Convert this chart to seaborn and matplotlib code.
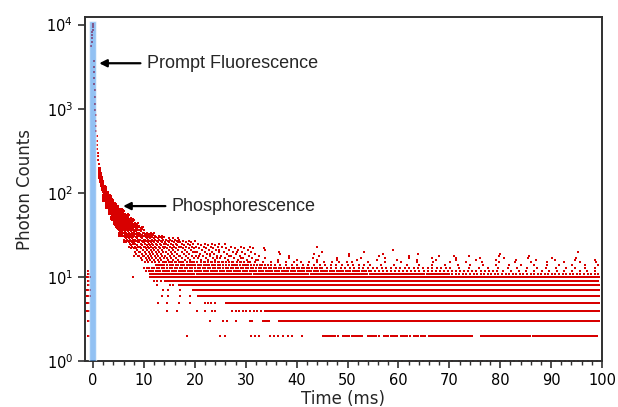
import matplotlib
matplotlib.use('Agg')
import matplotlib.pyplot as plt
import numpy as np
import pandas as pd
import seaborn as sns
from matplotlib.ticker import MultipleLocator, LogLocator, NullLocator

# early decay (time in ms, photon counts)
decay_t = [-0.35, -0.3, -0.25, -0.2, -0.15, -0.1, -0.05, 0.0, 0.05, 0.1, 0.14, 0.18,
           0.22, 0.26, 0.3, 0.35, 0.4, 0.45, 0.5, 0.55, 0.6, 0.65, 0.7, 0.75, 0.8,
           0.85, 0.9, 0.95, 1.0, 1.1, 1.2, 1.3, 1.4, 1.5, 1.6, 1.7, 1.8, 1.9]
decay_c = [5600, 6200, 6900, 7500, 8100, 8700, 9300, 9800, 10100, 3700, 3150, 2700,
           2300, 1950, 1650, 1380, 1150, 980, 840, 720, 620, 540, 470, 420, 370,
           330, 300, 275, 250, 220, 195, 178, 162, 150, 140, 130, 122, 114]

# phosphorescence cloud: time slice, count range inside it, channel spacing
cloud_t0 = [1.2, 1.4, 1.6, 1.8, 2.0, 2.5, 3.0, 3.5, 4.0, 4.5, 5.0, 6.0, 7.0, 8.0, 9.0,
            10, 12, 14, 17, 20, 25]
cloud_t1 = [1.4, 1.6, 1.8, 2.0, 2.5, 3.0, 3.5, 4.0, 4.5, 5.0, 6.0, 7.0, 8.0, 9.0, 10,
            12, 14, 17, 20, 25, 32]
cloud_lo = [150, 135, 120, 108, 80, 66, 56, 48, 42, 37, 31, 26, 22, 18, 16,
            15, 14, 14, 14, 14, 14]
cloud_hi = [200, 175, 155, 140, 120, 104, 94, 84, 76, 70, 64, 56, 50, 44, 40,
            34, 31, 29, 27, 25, 23]
cloud_dt = [0.12, 0.12, 0.12, 0.12, 0.25, 0.28, 0.3, 0.32, 0.35, 0.38, 0.42, 0.5, 0.6,
            0.7, 0.75, 0.65, 0.75, 0.9, 1.1, 1.4, 1.8]

# integer count rows: level, first / last time, spacing of dots along the row
band_level = [2, 3, 4, 5, 6, 7, 8, 9, 10, 11, 12,
              1, 1, 1,
              2, 2, 2, 2, 2, 2, 2, 2, 2,
              3, 3, 3,
              4, 4, 4,
              5, 5,
              6, 7,
              8, 8,
              9, 9,
              10,
              11, 11,
              12, 12, 12,
              13, 13, 13,
              14, 14, 14,
              15, 15, 15,
              16, 17, 18, 19, 20, 21]
band_t0 = [-1.0, -1.2, -1.25, -1.25, -1.25, -1.2, -1.2, -1.15, -1.2, -1.1, -1.0,
           36, 50, 75,
           45, 49, 53.9, 57.1, 60.4, 63, 66, 76.2, 86.4,
           30.6, 33, 36.3,
           23, 27, 33.5,
           22, 26,
           20.4, 19.5,
           14.5, 16.5,
           11.5, 13.9,
           11.2,
           10.8, 70,
           10.3, 55, 80,
           10, 45, 70,
           12, 35, 55,
           14, 30, 50,
           25, 22, 20, 18, 17, 16]
band_t1 = [-0.7, -0.65, -0.65, -0.65, -0.65, -0.65, -0.65, -0.7, -0.65, -0.7, -0.75,
           50, 75, 99.5,
           48.3, 53.2, 56.5, 59.8, 62.4, 65.4, 74.8, 86, 99.2,
           31.5, 35, 99.5,
           24.4, 33.5, 99.5,
           24.4, 99.5,
           99.5, 99.5,
           15.8, 99.5,
           13.5, 99.5,
           99.5,
           70, 99.5,
           55, 80, 99.5,
           45, 70, 99.5,
           35, 55, 99.5,
           30, 50, 99.5,
           99.5, 99.5, 90, 70, 55, 40]
band_dt = [0.15, 0.12, 0.12, 0.12, 0.12, 0.12, 0.12, 0.12, 0.12, 0.15, 0.2,
           2.3, 1.4, 0.9,
           0.42, 0.42, 0.42, 0.42, 0.42, 0.42, 0.38, 0.38, 0.38,
           0.38, 0.42, 0.38,
           0.6, 0.7, 0.38,
           0.6, 0.38,
           0.38, 0.38,
           0.6, 0.38,
           0.7, 0.38,
           0.38,
           0.4, 0.7,
           0.45, 0.8, 1.5,
           0.5, 0.9, 1.9,
           0.55, 1.1, 2.5,
           0.7, 1.5, 3.2,
           3.9, 4.7, 5.9, 6.8, 8.3, 9.0]

# stray single dots (ms, counts)
stray_t = [18.4, 25, 26, 31, 31.8, 32.6, 34.8, 35.6, 36.4, 37.4, 38.2, 39.1, 41.1,
           23, 25.6, 26.4, 28, 14.5, 16.5, 20.4, 22, 12.8, 14.5, 16.8, 19,
           13.5, 14.8, 17, 19, 13.8, 14.8, 17, 12.5, 7.8,
           33.5, 95.2, 26, 59, 80, 44, 71]
stray_c = [2, 2, 2, 2, 2, 2, 2, 2, 2, 2, 2, 2, 2,
           3, 3, 3, 3, 4, 4, 4, 4, 5, 5, 5, 5,
           6, 6, 6, 6, 7, 7, 7, 8, 10,
           22, 20, 25, 21, 19, 23, 18]

# prompt fluorescence excitation window
prompt_t = [-0.1]
prompt_c = [10900]

golden = 0.618


def row_points(level, t0, t1, dt):
    shift = (level * golden) % 1 * dt
    ts = np.arange(t0 + shift, t1, dt)
    return ts, np.full(len(ts), level)


xs, ys = [np.array(decay_t)], [np.array(decay_c, dtype=float)]
for t0, t1, lo, hi, dt in zip(cloud_t0, cloud_t1, cloud_lo, cloud_hi, cloud_dt):
    for lev in range(lo, hi + 1):
        a, b = row_points(lev, t0, t1, dt)
        xs.append(a)
        ys.append(b)
for lev, t0, t1, dt in zip(band_level, band_t0, band_t1, band_dt):
    a, b = row_points(lev, t0, t1, dt)
    xs.append(a)
    ys.append(b)
xs.append(np.array(stray_t))
ys.append(np.array(stray_c, dtype=float))

pts = pd.DataFrame({'t': np.concatenate(xs), 'c': np.concatenate(ys)})

sns.set_style('ticks')
plt.rcParams['font.family'] = ['DejaVu Sans']

fig = plt.figure(figsize=(6.18, 4.07), dpi=100)
ax = fig.add_axes([0.1375, 0.1118, 0.8366, 0.8464])

sns.scatterplot(data=pts, x='t', y='c', marker='s', s=2.2, color='#d80000',
                linewidth=0, legend=False, ax=ax, zorder=2)
ax.bar(prompt_t, prompt_c, width=1.4, bottom=0.8, color='#4a98ec', alpha=0.6,
       zorder=3)

ax.set_yscale('log')
ax.set_xlim(-1.6, 100)
ax.set_ylim(1, 12300)
ax.xaxis.set_major_locator(MultipleLocator(10))
ax.xaxis.set_minor_locator(MultipleLocator(2))
ax.yaxis.set_major_locator(LogLocator(base=10))
ax.yaxis.set_minor_locator(NullLocator())

for s in ax.spines.values():
    s.set_visible(True)
    s.set_linewidth(1.4)
    s.set_color('#303030')
ax.tick_params(which='major', direction='out', length=5, width=1.2,
               labelsize=10.5, colors='#303030', labelcolor='black')
ax.tick_params(which='minor', direction='out', length=3, width=1.0, colors='#303030')

ax.set_xlabel('Time (ms)', fontsize=12, labelpad=1)
ax.set_ylabel('Photon Counts', fontsize=12, labelpad=9)

arrow = dict(arrowstyle='-|>', color='black', lw=1.6, mutation_scale=11,
             shrinkA=0, shrinkB=0)
ax.annotate('', xy=(1.2, 3475), xytext=(9.3, 3475), arrowprops=arrow)
ax.text(10.6, 3475, 'Prompt Fluorescence', va='center', ha='left', fontsize=13,
        family=['Liberation Sans', 'DejaVu Sans'])
ax.annotate('', xy=(5.9, 70), xytext=(14.2, 70), arrowprops=arrow)
ax.text(15.4, 70, 'Phosphorescence', va='center', ha='left', fontsize=13,
        family=['Liberation Sans', 'DejaVu Sans'])

fig.savefig('out.png', dpi=100)
